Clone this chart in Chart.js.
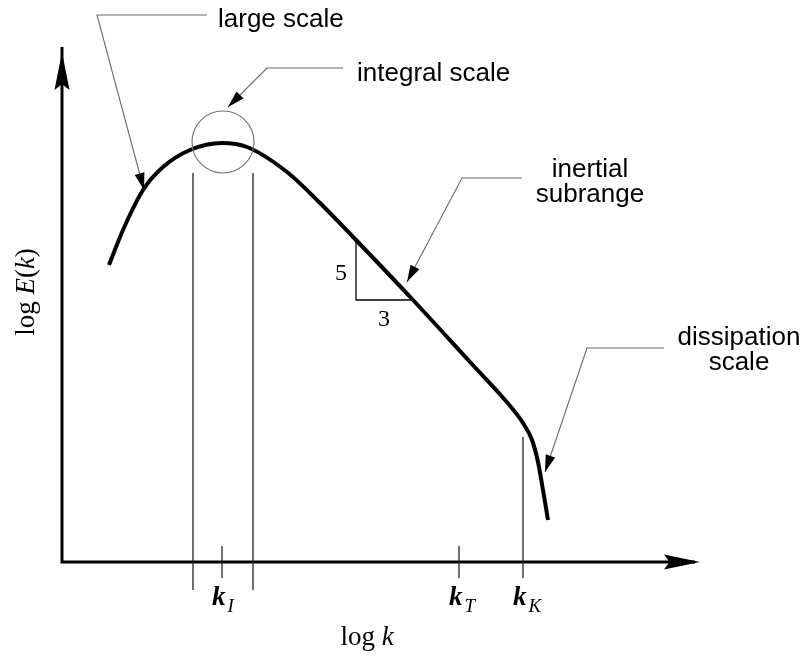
<!DOCTYPE html>
<html>
<head>
<meta charset="utf-8">
<script src="https://cdn.jsdelivr.net/npm/chart.js@4/dist/chart.umd.min.js"></script>
<style>
  html, body { margin:0; padding:0; background:#fff; }
  #wrap { width:803px; height:658px; position:relative; }
</style>
</head>
<body>
<div id="wrap"><canvas id="spectrum"></canvas></div>
<script>
/* energy spectrum sketch: log E(k) vs log k */

// curve (log k, log E) in sketch units
const logK = [4.7, 6.1, 8.1, 10.1, 12.8, 16.0, 18.5, 22.5, 25.8, 29.4, 35.1, 40.8, 44.3, 46.1, 47.0, 47.6, 48.1, 48.6];
const logE = [29.7, 33.2, 37.2, 39.5, 41.2, 41.9, 41.5, 39.0, 35.9, 32.2, 26.2, 20.0, 16.2, 13.9, 12.2, 10.0, 7.2, 4.2];

// marked wavenumbers on the k axis
const kMarks   = ['I', 'T', 'K'];
const kMarkPos = [16.0, 39.7, 46.1];

// integral-scale band edges
const bandEdges = [13.1, 19.1];

// callout texts
const calloutText = [['large scale'], ['integral scale'], ['inertial', 'subrange'], ['dissipation', 'scale']];

const X_MIN = -6.2, X_MAX = 74.1, Y_MIN = -9.6, Y_MAX = 56.2;

// geometry of the decorations (sketch units)
const callouts = [
  { text: calloutText[0], tx: 15.6, ty: 53.5, align: 'left',   path: [[14.5, 54.7], [3.5, 54.7], [8.2, 37.2]] },
  { text: calloutText[1], tx: 29.5, ty: 48.1, align: 'left',   path: [[28.1, 49.4], [20.5, 49.4], [16.6, 45.5]] },
  { text: calloutText[2], tx: 52.8, ty: 38.5, align: 'center', path: [[46.0, 38.4], [40.0, 38.4], [34.5, 28.0]] },
  { text: calloutText[3], tx: 67.7, ty: 21.7, align: 'center', path: [[60.2, 21.4], [52.5, 21.4], [48.3, 9.0]] }
];

function arrowHead(ctx, x0, y0, x1, y1, len, hw, notch) {
  const a = Math.atan2(y1 - y0, x1 - x0);
  const c = Math.cos(a), s = Math.sin(a);
  const bx = x1 - c * len, by = y1 - s * len;
  ctx.beginPath();
  ctx.moveTo(x1, y1);
  ctx.lineTo(bx - s * hw, by + c * hw);
  ctx.lineTo(x1 - c * len * notch, y1 - s * len * notch);
  ctx.lineTo(bx + s * hw, by - c * hw);
  ctx.closePath();
  ctx.fill();
}

const sketchPlugin = {
  id: 'sketch',
  afterDatasetsDraw(chart) {
    const ctx = chart.ctx;
    const xs = chart.scales.x, ys = chart.scales.y;
    const X = v => xs.getPixelForValue(v), Y = v => ys.getPixelForValue(v);
    ctx.save();

    // axes with arrows
    ctx.strokeStyle = '#000'; ctx.fillStyle = '#000'; ctx.lineWidth = 3;
    ctx.beginPath();
    ctx.moveTo(X(0), Y(51.5)); ctx.lineTo(X(0), Y(0)); ctx.lineTo(X(63.3), Y(0));
    ctx.stroke();
    arrowHead(ctx, X(0), Y(0), X(0), Y(51.0), 38, 7.5, 0.85);
    arrowHead(ctx, X(0), Y(0), X(63.8), Y(0), 36, 7.5, 0.85);

    // integral band lines
    ctx.strokeStyle = '#222'; ctx.lineWidth = 1.3;
    bandEdges.forEach(e => {
      ctx.beginPath(); ctx.moveTo(X(e), Y(38.9)); ctx.lineTo(X(e), Y(-2.8)); ctx.stroke();
    });
    // tick marks
    kMarkPos.forEach((k, i) => {
      const top = kMarks[i] === 'K' ? 12.5 : 1.6;
      ctx.beginPath(); ctx.moveTo(X(k), Y(top)); ctx.lineTo(X(k), Y(-1.6)); ctx.stroke();
    });

    // integral-scale circle
    ctx.strokeStyle = '#777'; ctx.lineWidth = 1.2;
    ctx.beginPath();
    ctx.arc(X(16.1), Y(42.0), X(19.2) - X(16.1), 0, Math.PI * 2);
    ctx.stroke();

    // -5/3 slope triangle
    ctx.strokeStyle = '#000'; ctx.lineWidth = 1.3;
    ctx.beginPath();
    ctx.moveTo(X(29.4), Y(32.2)); ctx.lineTo(X(29.4), Y(26.2)); ctx.lineTo(X(35.1), Y(26.2));
    ctx.stroke();
    ctx.font = '24px "Liberation Serif", serif';
    ctx.textAlign = 'center'; ctx.textBaseline = 'middle';
    ctx.fillText('5', X(27.9), Y(28.8));
    ctx.fillText('3', X(32.2), Y(24.2));

    // callouts
    callouts.forEach(c => {
      ctx.strokeStyle = '#6a6a6a'; ctx.lineWidth = 1.1;
      ctx.beginPath();
      c.path.forEach((p, i) => i ? ctx.lineTo(X(p[0]), Y(p[1])) : ctx.moveTo(X(p[0]), Y(p[1])));
      ctx.stroke();
      const n = c.path.length;
      ctx.fillStyle = '#000';
      arrowHead(ctx, X(c.path[n - 2][0]), Y(c.path[n - 2][1]), X(c.path[n - 1][0]), Y(c.path[n - 1][1]), 17, 5, 1);
      ctx.font = '26px "Liberation Sans", Arial, sans-serif';
      ctx.textAlign = c.align; ctx.textBaseline = 'alphabetic';
      c.text.forEach((t, i) => ctx.fillText(t, X(c.tx), Y(c.ty) + i * 25));
    });

    // k labels
    ctx.fillStyle = '#000'; ctx.textAlign = 'left'; ctx.textBaseline = 'alphabetic';
    kMarkPos.forEach((k, i) => {
      const x0 = X(k) - 10, y0 = Y(-4.3);
      ctx.font = 'italic bold 27px "Liberation Serif", serif';
      ctx.fillText('k', x0, y0);
      const w = ctx.measureText('k').width;
      ctx.font = 'italic 19px "Liberation Serif", serif';
      ctx.fillText(kMarks[i], x0 + w + 2, y0 + 7);
    });

    // axis titles
    ctx.font = '27px "Liberation Serif", serif';
    const t1 = 'log ', w1 = ctx.measureText(t1).width;
    ctx.font = 'italic 27px "Liberation Serif", serif';
    const w2 = ctx.measureText('k').width;
    let xl = X(30.5) - (w1 + w2) / 2;
    ctx.font = '27px "Liberation Serif", serif'; ctx.fillText(t1, xl, Y(-8.3));
    ctx.font = 'italic 27px "Liberation Serif", serif'; ctx.fillText('k', xl + w1, Y(-8.3));

    ctx.translate(X(-3.5), Y(27.0));
    ctx.rotate(-Math.PI / 2);
    const parts = [['log ', ''], ['E', 'italic '], ['(', ''], ['k', 'italic '], [')', '']];
    let tot = 0;
    parts.forEach(p => { ctx.font = p[1] + '27px "Liberation Serif", serif'; tot += ctx.measureText(p[0]).width; });
    let px = -tot / 2;
    ctx.textBaseline = 'middle';
    parts.forEach(p => {
      ctx.font = p[1] + '27px "Liberation Serif", serif';
      ctx.fillText(p[0], px, 0);
      px += ctx.measureText(p[0]).width;
    });
    ctx.restore();
  }
};

new Chart(document.getElementById('spectrum'), {
  type: 'line',
  data: {
    datasets: [{
      data: logK.map((k, i) => ({ x: k, y: logE[i] })),
      borderColor: '#000',
      borderWidth: 4,
      pointRadius: 0,
      cubicInterpolationMode: 'monotone',
      fill: false
    }]
  },
  options: {
    responsive: true,
    maintainAspectRatio: false,
    animation: false,
    layout: { padding: 0 },
    plugins: { legend: { display: false }, tooltip: { enabled: false } },
    scales: {
      x: { type: 'linear', min: X_MIN, max: X_MAX, display: false },
      y: { type: 'linear', min: Y_MIN, max: Y_MAX, display: false }
    }
  },
  plugins: [sketchPlugin]
});
</script>
</body>
</html>
